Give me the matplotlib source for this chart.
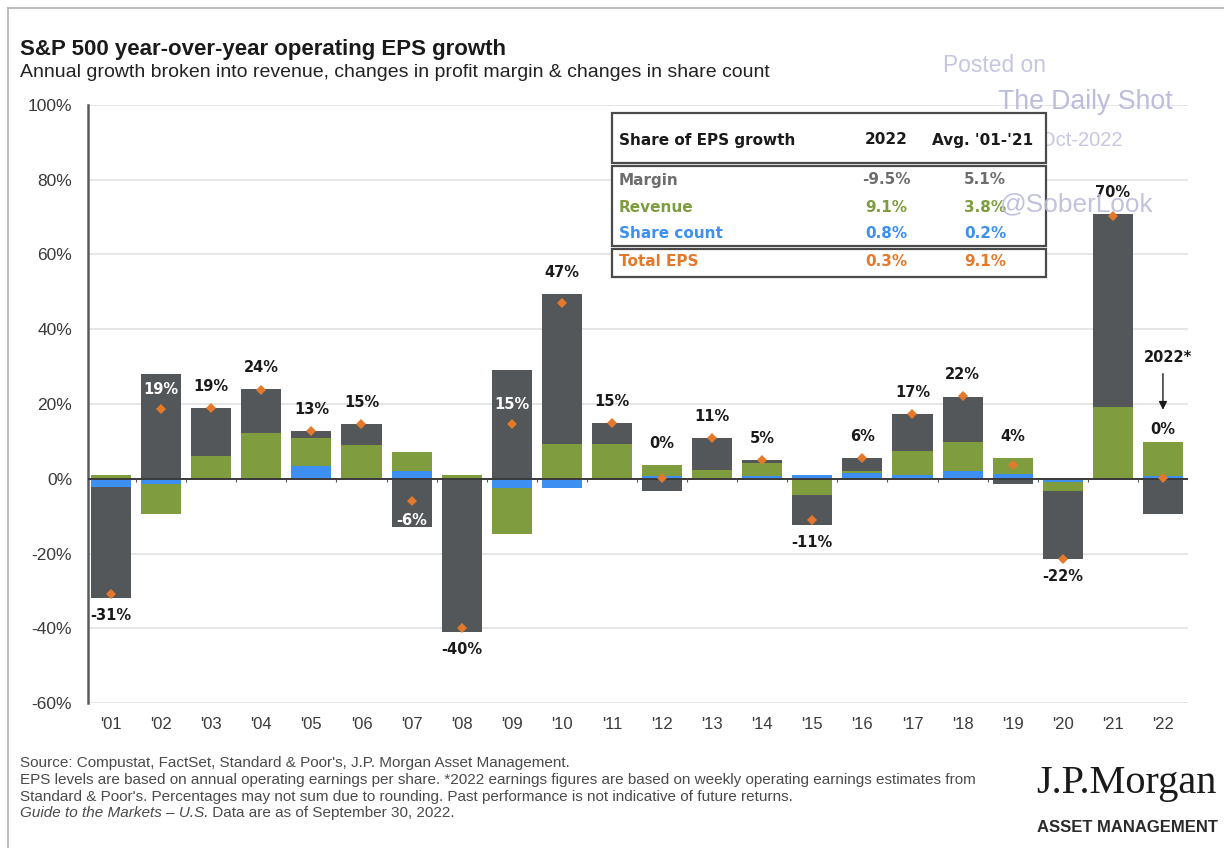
import numpy as np
import matplotlib
matplotlib.use("Agg")
import matplotlib.pyplot as plt
from matplotlib.patches import Rectangle
from matplotlib.lines import Line2D
from matplotlib.transforms import ScaledTranslation

# ---------------- data ----------------
years = ["'01", "'02", "'03", "'04", "'05", "'06", "'07", "'08", "'09", "'10", "'11",
         "'12", "'13", "'14", "'15", "'16", "'17", "'18", "'19", "'20", "'21", "'22"]
margin = [-29.7, 27.9, 12.9, 11.8, 1.7, 5.6, -12.9, -41.0, 29.2, 40.2, 5.7,
          -3.3, 8.4, 1.0, -7.9, 3.4, 9.9, 12.1, -1.5, -18.3, 51.5, -9.5]
revenue = [0.9, -8.2, 6.1, 12.3, 7.7, 8.9, 5.1, 1.0, -12.3, 9.2, 9.2,
           3.1, 2.1, 3.3, -4.4, 0.6, 6.4, 7.7, 4.3, -2.3, 19.3, 9.1]
share_count = [-2.2, -1.3, 0.0, -0.4, 3.3, 0.2, 2.0, 0.0, -2.6, -2.6, 0.0,
               0.7, 0.3, 0.8, 1.0, 1.5, 1.0, 2.1, 1.2, -1.0, -0.4, 0.8]
eps_growth = [-30.8, 18.6, 19.0, 23.7, 12.7, 14.6, -5.9, -39.8, 14.6, 47.1, 15.0,
              0.2, 10.8, 5.1, -11.1, 5.6, 17.4, 22.1, 3.8, -21.6, 70.2, 0.3]
inside_labels = ["'02", "'07", "'09"]

table_rows = ["Margin", "Revenue", "Share count", "Total EPS"]
table_2022 = [-9.5, 9.1, 0.8, 0.3]
table_avg = [5.1, 3.8, 0.2, 9.1]
yticks = [-60, -40, -20, 0, 20, 40, 60, 80, 100]

footer_lines = [
    "Source: Compustat, FactSet, Standard & Poor's, J.P. Morgan Asset Management.",
    "EPS levels are based on annual operating earnings per share. *2022 earnings figures are based on weekly operating earnings estimates from",
    "Standard & Poor's. Percentages may not sum due to rounding. Past performance is not indicative of future returns.",
]
footer_italic = "Guide to the Markets \u2013 U.S."
footer_last = " Data are as of September 30, 2022."

# ---------------- style ----------------
C_GRAY = "#54575a"
C_GREEN = "#7f9c3e"
C_BLUE = "#3d8ff2"
C_ORANGE = "#e4792b"
C_MARGIN_TXT = "#6d6d6d"
SANS = "Liberation Sans"
LBL = "DejaVu Sans"

W, H = 1224, 848
fig = plt.figure(figsize=(W / 100, H / 100), dpi=100)
renderer = fig.canvas.get_renderer()


def fx(px):
    return px / W


def fy(py):
    return 1 - py / H


def fit(t, target_w):
    bb = t.get_window_extent(renderer)
    t.set_fontsize(t.get_fontsize() * target_w / bb.width)
    return t


ax = fig.add_axes([fx(88), fy(703), fx(1188) - fx(88), fy(105) - fy(703)])
x = np.arange(len(years))

# stacked bars: share count nearest zero, then revenue, then margin
pos_base = np.zeros(len(years))
neg_base = np.zeros(len(years))
for vals, col in [(share_count, C_BLUE), (revenue, C_GREEN), (margin, C_GRAY)]:
    v = np.array(vals, dtype=float)
    bottoms = np.where(v >= 0, pos_base, neg_base)
    ax.bar(x, v, bottom=bottoms, width=0.8, color=col, zorder=2, linewidth=0)
    pos_base = pos_base + np.where(v > 0, v, 0)
    neg_base = neg_base + np.where(v < 0, v, 0)

ax.axhline(0, color="#3a3a3a", lw=1.4, zorder=3)
ax.vlines(x + 0.5, -0.9, 0, color="#555555", lw=0.8, zorder=3)

ax.plot(x, eps_growth, linestyle="none", marker="D", ms=5.5, color=C_ORANGE,
        markeredgewidth=0, zorder=5)

last = len(years) - 1
lbl_kw = dict(ha="center", va="center", fontsize=10.5, fontweight="bold",
              family=LBL, zorder=6, textcoords="offset points")
# value labels
for i, (yr, e) in enumerate(zip(years, eps_growth)):
    txt = f"{round(e):d}%"
    if yr in inside_labels:
        dy = 14.5 if e >= 0 else -14.5
        ax.annotate(txt, (i, e), xytext=(0, dy), color="white", **lbl_kw)
    elif e >= 0:
        top = max(pos_base[i], e)
        dy = 9 if i == last else 15.5
        ax.annotate(txt, (i, top), xytext=(0, dy), color="#1a1a1a", **lbl_kw)
    else:
        bot = min(neg_base[i], e)
        ax.annotate(txt, (i, bot), xytext=(0, -12.5), color="#1a1a1a", **lbl_kw)

# 2022* annotation with arrow
top_last = max(pos_base[last], eps_growth[last])
ax.annotate("2022*", (last, top_last), xytext=(4, 61), color="#1a1a1a", **lbl_kw)
t_tip = ax.transData + ScaledTranslation(0, 23 / 72, fig.dpi_scale_trans)
t_tail = ax.transData + ScaledTranslation(0, 49 / 72, fig.dpi_scale_trans)
ax.annotate("", xy=(last, top_last), xycoords=t_tip,
            xytext=(last, top_last), textcoords=t_tail,
            arrowprops=dict(arrowstyle="-|>", color="#1a1a1a", lw=1.0,
                            mutation_scale=12, shrinkA=0, shrinkB=0))

ax.set_xlim(-0.46, len(years) - 0.5)
ax.set_ylim(-60, 100)
ax.set_yticks(yticks)
ax.set_yticklabels([f"{v}%" for v in yticks], family=SANS, fontsize=12.5,
                   color="#3a3a3a")
ax.set_xticks(x)
ax.set_xticklabels(years, family=SANS, fontsize=12, color="#3a3a3a")
ax.tick_params(axis="y", length=0, pad=11.5)
ax.tick_params(axis="x", length=0, pad=10)
ax.grid(axis="y", color="#e2e2e2", lw=1.2, zorder=0)
ax.set_axisbelow(True)
for s in ["top", "right", "bottom"]:
    ax.spines[s].set_visible(False)
ax.spines["left"].set_color("#5a5a5a")
ax.spines["left"].set_linewidth(1.8)

# ---------------- frame ----------------
fig.add_artist(Line2D([fx(8), 1], [fy(8), fy(8)], color="#b0b0b0", lw=1.2))
fig.add_artist(Line2D([fx(8), fx(8)], [0, fy(8)], color="#b0b0b0", lw=1.2))

# ---------------- titles ----------------
t = fig.text(fx(20), fy(55), "S&P 500 year-over-year operating EPS growth",
             family=SANS, fontweight="bold", fontsize=15, color="#1a1a1a",
             va="baseline", ha="left")
fit(t, 490)
t = fig.text(fx(20), fy(77), "Annual growth broken into revenue, changes in profit margin & changes in share count",
             family=SANS, fontsize=12.5, color="#222222", va="baseline", ha="left")
fit(t, 750)

# ---------------- watermark (behind table) ----------------
fig.text(fx(1123), fy(140), "07-Oct-2022", family=SANS, fontsize=14.5,
         color="#c6c6e2", ha="right", va="center", zorder=0.5)

# ---------------- table ----------------
for (y0, y1) in [(113, 163), (166, 246), (249, 277)]:
    fig.add_artist(Rectangle((fx(612), fy(y1)), fx(1046) - fx(612), fy(y0) - fy(y1),
                             transform=fig.transFigure, facecolor="white",
                             edgecolor="#4a4a4a", lw=1.6, zorder=1))
hdr_kw = dict(family=LBL, fontweight="bold", fontsize=11, color="#1a1a1a",
              va="center", zorder=3)
fig.text(fx(619), fy(140), "Share of EPS growth", ha="left", **hdr_kw)
fig.text(fx(886), fy(140), "2022", ha="center", **hdr_kw)
fig.text(fx(983), fy(140), "Avg. '01-'21", ha="center", **hdr_kw)
row_cols = [C_MARGIN_TXT, C_GREEN, C_BLUE, C_ORANGE]
row_y = [180, 207, 234, 262]
for name, v22, vavg, col, yy in zip(table_rows, table_2022, table_avg, row_cols, row_y):
    kw = dict(family=LBL, fontweight="bold", fontsize=11, color=col,
              va="center", zorder=3)
    fig.text(fx(619), fy(yy), name, ha="left", **kw)
    fig.text(fx(886), fy(yy), f"{v22:.1f}%", ha="center", **kw)
    fig.text(fx(985), fy(yy), f"{vavg:.1f}%", ha="center", **kw)

# ---------------- watermark (front) ----------------
t = fig.text(fx(943), fy(66), "Posted on", family=SANS, fontsize=15,
             color="#c6c6e2", ha="left", va="center", zorder=5)
fit(t, 103)
t = fig.text(fx(998), fy(102), "The Daily Shot", family=SANS, fontsize=19,
             color="#bcbcdc", ha="left", va="center", zorder=5)
fit(t, 175)
t = fig.text(fx(1000), fy(204), "@SoberLook", family=SANS, fontsize=19,
             color="#bcbcdc", ha="left", va="center", zorder=5, alpha=0.9)
fit(t, 153)

# ---------------- footer ----------------
foot_kw = dict(family=SANS, fontsize=9, color="#4a4a4a", ha="left", va="center")
foot_y = [763, 780, 797]
ts = []
for line, yy in zip(footer_lines, foot_y):
    ts.append(fig.text(fx(20), fy(yy), line, **foot_kw))
fit(ts[1], 965)
fs = ts[1].get_fontsize()
for tt in ts:
    tt.set_fontsize(fs)
ti = fig.text(fx(20), fy(813), footer_italic, style="italic",
              **{**foot_kw, "fontsize": fs})
bb = ti.get_window_extent(renderer)
fig.text(bb.x1 / W, fy(813), footer_last, **{**foot_kw, "fontsize": fs})

# ---------------- logo ----------------
t = fig.text(fx(1036), fy(784), "J.P.Morgan", family="Liberation Serif",
             fontsize=28, color="#1a1a1a", ha="left", va="center")
fit(t, 181)
t = fig.text(fx(1037), fy(828), "ASSET MANAGEMENT", family=SANS,
             fontweight="bold", fontsize=11, color="#2a2a2a", ha="left",
             va="center")
fit(t, 180)

fig.savefig("out.png", dpi=100)
